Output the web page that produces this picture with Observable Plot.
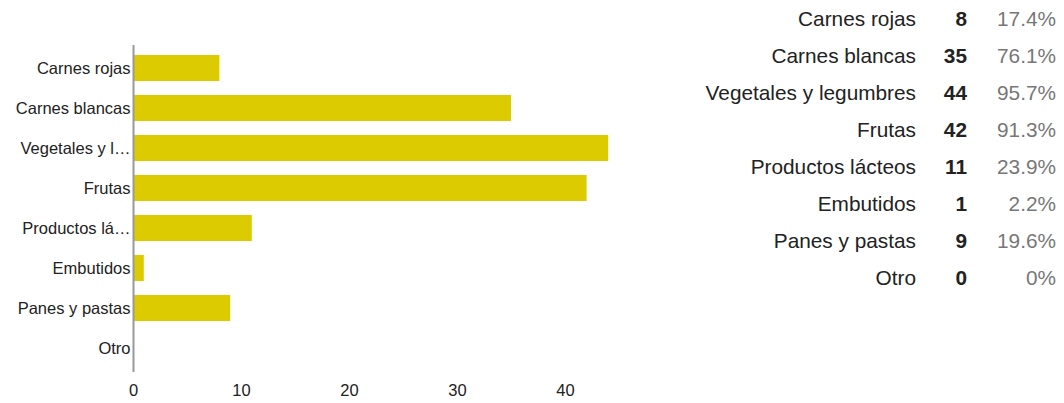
<!DOCTYPE html>
<html>
<head>
<meta charset="utf-8">
<script src="https://cdn.jsdelivr.net/npm/d3@7"></script>
<script src="https://cdn.jsdelivr.net/npm/@observablehq/plot@0.6"></script>
<style>
  body { margin: 0; background: #fff; font-family: "Liberation Sans", Arial, sans-serif; }
  #wrap { position: relative; width: 1064px; height: 403px; overflow: hidden; }
  #chart { position: absolute; left: 0; top: 0; }
  #table { position: absolute; left: 600px; top: 0; display: grid;
           grid-template-columns: 316px 51px 89px; grid-auto-rows: 37px;
           font-size: 20.8px; color: #222; }
  #table div { display: flex; align-items: center; justify-content: flex-end; white-space: nowrap; }
  #table .n { font-weight: bold; }
  #table .p { color: #777; }
</style>
</head>
<body>
<div id="wrap"><div id="chart"></div><div id="table"></div></div>
<script>
const categories = ["Carnes rojas","Carnes blancas","Vegetales y legumbres","Frutas","Productos lácteos","Embutidos","Panes y pastas","Otro"];
const axisLabels = ["Carnes rojas","Carnes blancas","Vegetales y l…","Frutas","Productos lá…","Embutidos","Panes y pastas","Otro"];
const counts = [8, 35, 44, 42, 11, 1, 9, 0];
const percents = ["17.4%","76.1%","95.7%","91.3%","23.9%","2.2%","19.6%","0%"];
const xTicks = [0, 10, 20, 30, 40];

const data = categories.map((c, i) => ({cat: c, label: axisLabels[i], n: counts[i]}));
const labelOf = new Map(data.map(d => [d.cat, d.label]));

const plot = Plot.plot({
  width: 620,
  height: 403,
  marginLeft: 133,
  marginRight: 1,
  marginTop: 45,
  marginBottom: 31,
  style: {fontFamily: "'Liberation Sans', Arial, sans-serif", fontSize: "16.5px", color: "#222", overflow: "visible"},
  x: {domain: [0, 45], ticks: xTicks, label: null},
  y: {domain: categories, label: null, paddingInner: 0.34, paddingOuter: 0.165},
  marks: [
    Plot.barX(data, {x: "n", y: "cat", fill: "#dccb00"}),
    Plot.ruleX([0], {stroke: "#999", strokeWidth: 2}),
    Plot.axisX({ticks: xTicks, tickSize: 0, tickPadding: 12, label: null, fill: "#222"}),
    Plot.axisY({tickSize: 0, tickPadding: 3, label: null, tickFormat: d => labelOf.get(d), fill: "#222"})
  ]
});
document.getElementById("chart").appendChild(plot);

const table = document.getElementById("table");
categories.forEach((c, i) => {
  const a = document.createElement("div"); a.textContent = c; table.appendChild(a);
  const b = document.createElement("div"); b.className = "n"; b.textContent = counts[i]; table.appendChild(b);
  const p = document.createElement("div"); p.className = "p"; p.textContent = percents[i]; table.appendChild(p);
});
</script>
</body>
</html>
